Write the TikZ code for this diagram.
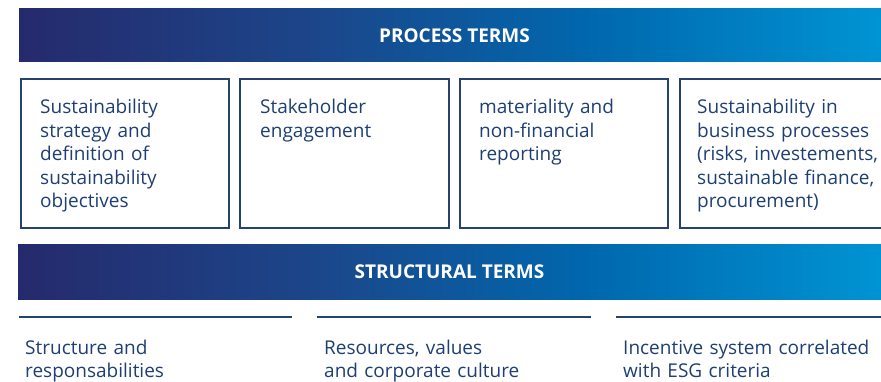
\documentclass[tikz,border=0pt]{standalone}
\usepackage{fontspec}
\setmainfont{Open Sans}
\definecolor{navyA}{HTML}{252A6C}
\definecolor{navyB}{HTML}{1C468A}
\definecolor{blueC}{HTML}{0068AE}
\definecolor{cyanD}{HTML}{0095D5}
\definecolor{inktext}{HTML}{1E3F72}
\definecolor{rule}{HTML}{24436F}
\pgfdeclarehorizontalshading{barshade}{100bp}{%
  color(0bp)=(navyA); color(25bp)=(navyA); color(42bp)=(navyB);
  color(58bp)=(blueC); color(75bp)=(cyanD); color(100bp)=(cyanD)}
\tikzset{
  headbar/.style={shading=barshade},
  headtext/.style={text=white, font=\fontsize{19}{22}\selectfont\bfseries, inner sep=0pt},
  termbox/.style={draw=rule, line width=1.4pt},
  boxtext/.style={text=inktext, anchor=base west, inner sep=0pt, align=left,
    text width=280pt, font=\fontsize{19}{23.5}\selectfont},
  sepline/.style={draw=rule, line width=1.3pt},
}
\begin{document}
\begin{tikzpicture}[x=1pt, y=-1pt]
  \useasboundingbox (0,0) rectangle (881,382);

  % process terms header
  \path[headbar] (19,9) rectangle (890,62);
  \node[headtext] (ptitle) at (454.5,35.5) {PROCESS TERMS};

  % process term boxes
  \draw[termbox] (21,79) rectangle (229,228);
  \draw[termbox] (240,79) rectangle (449,228);
  \draw[termbox] (460,79) rectangle (668,228);
  \draw[termbox] (680,79) rectangle (895,228);
  \node[boxtext] (p1) at (40,114) {Sustainability\\strategy and\\definition of\\sustainability\\objectives};
  \node[boxtext] (p2) at (260,114) {Stakeholder\\engagement};
  \node[boxtext] (p3) at (479,114) {materiality and\\non-financial\\reporting};
  \node[boxtext] (p4) at (697,114) {Sustainability in\\business processes\\(risks, investements,\\sustainable finance,\\procurement)};

  % structural terms header
  \path[headbar] (18,245) rectangle (890,299);
  \node[headtext] (stitle) at (449.5,272) {STRUCTURAL TERMS};

  % structural term columns
  \draw[sepline] (19,317) -- (292,317);
  \draw[sepline] (317,317) -- (591,317);
  \draw[sepline] (616,317) -- (890,317);
  \node[boxtext] (s1) at (25,354) {Structure and\\responsabilities};
  \node[boxtext] (s2) at (324,354) {Resources, values\\and corporate culture};
  \node[boxtext] (s3) at (623,354) {Incentive system correlated\\with ESG criteria};
\end{tikzpicture}
\end{document}
